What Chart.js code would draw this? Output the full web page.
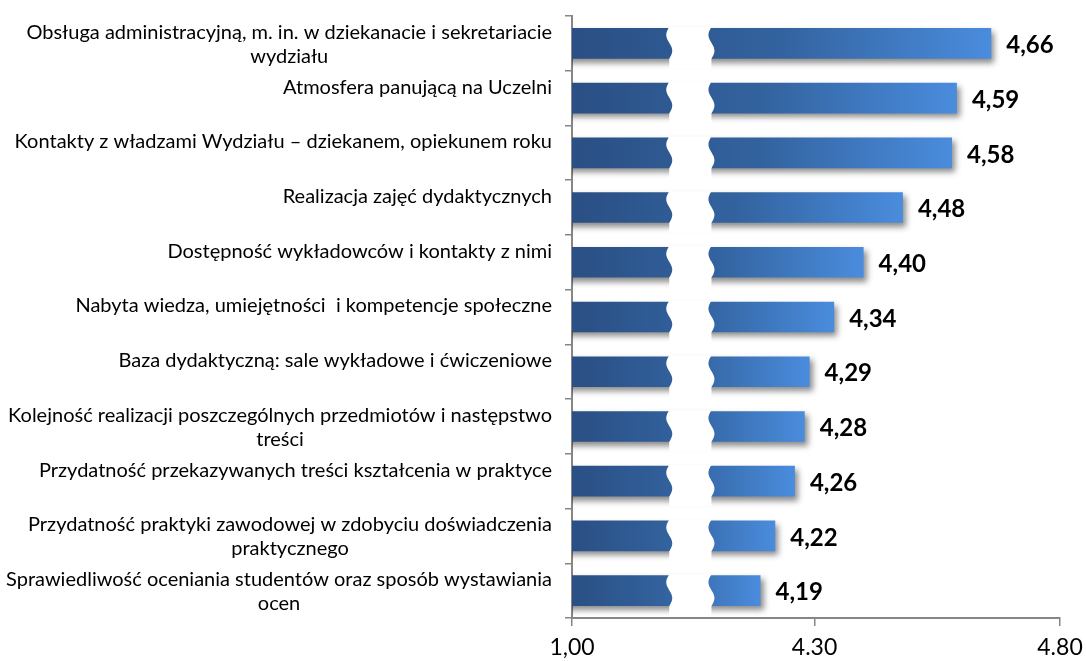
<!DOCTYPE html>
<html lang="pl">
<head>
  <meta charset="UTF-8">
  <title>Ocena</title>
  <script src="https://cdn.jsdelivr.net/npm/chart.js"></script>
  <style>
    html, body { margin: 0; padding: 0; background: #ffffff; }
    .chart-container { width: 1086px; height: 661px; }
  </style>
</head>
<body>
  <div class="chart-container">
    <canvas id="barChart"></canvas>
  </div>
  <script>
    // categories, wrapped as in the original
    const categories = [
      ['Obsługa administracyjną, m. in. w dziekanacie i sekretariacie', 'wydziału'],
      ['Atmosfera panującą na Uczelni'],
      ['Kontakty z władzami Wydziału – dziekanem, opiekunem roku'],
      ['Realizacja zajęć dydaktycznych'],
      ['Dostępność wykładowców i kontakty z nimi'],
      ['Nabyta wiedza, umiejętności  i kompetencje społeczne'],
      ['Baza dydaktyczną: sale wykładowe i ćwiczeniowe'],
      ['Kolejność realizacji poszczególnych przedmiotów i następstwo', 'treści'],
      ['Przydatność przekazywanych treści kształcenia w praktyce'],
      ['Przydatność praktyki zawodowej w zdobyciu doświadczenia', 'praktycznego'],
      ['Sprawiedliwość oceniania studentów oraz sposób wystawiania', 'ocen']
    ];
    const values = [4.66, 4.59, 4.58, 4.48, 4.40, 4.34, 4.29, 4.28, 4.26, 4.22, 4.19];
    const valueLabels = ['4,66', '4,59', '4,58', '4,48', '4,40', '4,34', '4,29', '4,28', '4,26', '4,22', '4,19'];
    // broken axis: left end is labelled 1,00
    const tickValues = [3.806, 4.30, 4.80];
    const tickLabels = ['1,00', '4.30', '4.80'];

    const FONT = 'Lato, "Open Sans", sans-serif';

    // shadow under the bars
    const shadowPlugin = {
      id: 'barShadow',
      beforeDatasetsDraw(chart) {
        const ctx = chart.ctx;
        ctx.save();
        ctx.shadowColor = 'rgba(0,0,0,0.45)';
        ctx.shadowBlur = 6;
        ctx.shadowOffsetX = 3;
        ctx.shadowOffsetY = 4;
      },
      afterDatasetsDraw(chart) {
        chart.ctx.restore();
      }
    };

    // axis break + value labels
    const breakPlugin = {
      id: 'axisBreak',
      afterDatasetsDraw(chart) {
        const ctx = chart.ctx;
        const x = chart.scales.x;
        const x1 = x.getPixelForValue(4.0);
        const x2 = x.getPixelForValue(4.088);
        const meta = chart.getDatasetMeta(0);
        ctx.save();
        ctx.fillStyle = '#ffffff';
        meta.data.forEach(function(bar) {
          const top = bar.y - bar.height / 2 - 1;
          const bottom = bar.y + bar.height / 2 + 10;
          const h = bar.height + 1;
          ctx.beginPath();
          for (let i = 0; i <= 20; i++) {
            const t = i / 20;
            const yy = top + t * h;
            const xx = x1 + 2 - 3 * Math.sin(2 * Math.PI * t);
            if (i === 0) ctx.moveTo(xx, yy); else ctx.lineTo(xx, yy);
          }
          ctx.lineTo(x1 + 2, bottom);
          ctx.lineTo(x2 + 1, bottom);
          for (let i = 20; i >= 0; i--) {
            const t = i / 20;
            const yy = top + t * h;
            const xx = x2 + 1 - 3 * Math.sin(2 * Math.PI * t);
            ctx.lineTo(xx, yy);
          }
          ctx.closePath();
          ctx.fill();
        });

        ctx.fillStyle = '#000000';
        ctx.font = 'bold 24px ' + FONT;
        ctx.textAlign = 'left';
        ctx.textBaseline = 'middle';
        meta.data.forEach(function(bar, i) {
          ctx.fillText(valueLabels[i], bar.x + 15, bar.y + 2);
        });
        ctx.restore();
      }
    };

    // category labels: block right-aligned to the axis, lines centred inside the block
    const labelPlugin = {
      id: 'catLabels',
      afterDraw(chart) {
        const ctx = chart.ctx;
        const y = chart.scales.y;
        const right = y.right - 20;
        ctx.save();
        ctx.fillStyle = '#000000';
        ctx.font = '20px ' + FONT;
        ctx.textAlign = 'center';
        ctx.textBaseline = 'middle';
        categories.forEach(function(lines, i) {
          const cy = y.getPixelForTick(i);
          let w = 0;
          lines.forEach(function(s) { w = Math.max(w, ctx.measureText(s).width); });
          const cx = right - w / 2;
          lines.forEach(function(s, j) {
            ctx.fillText(s, cx, cy - 11 + j * 24);
          });
        });
        ctx.restore();
      }
    };

    new Chart(document.getElementById('barChart').getContext('2d'), {
      type: 'bar',
      data: {
        labels: categories.map(function(l) { return l.join(' '); }),
        datasets: [{
          data: values,
          backgroundColor: function(c) {
            const chart = c.chart;
            const area = chart.chartArea;
            if (!area) return '#3a6eb5';
            const end = chart.scales.x.getPixelForValue(values[c.dataIndex]);
            const g = chart.ctx.createLinearGradient(area.left, 0, end, 0);
            g.addColorStop(0, '#2a4f84');
            g.addColorStop(0.5, '#33639f');
            g.addColorStop(1, '#4a8cdd');
            return g;
          },
          borderWidth: 0,
          categoryPercentage: 1,
          barPercentage: 0.56
        }]
      },
      options: {
        indexAxis: 'y',
        responsive: true,
        maintainAspectRatio: false,
        animation: false,
        layout: { padding: { top: 16, right: 26, left: 0, bottom: 0 } },
        plugins: {
          legend: { display: false },
          tooltip: { enabled: false }
        },
        scales: {
          x: {
            type: 'linear',
            min: tickValues[0],
            max: tickValues[2],
            afterBuildTicks: function(axis) {
              axis.ticks = tickValues.map(function(v) { return { value: v }; });
            },
            afterFit: function(axis) {
              axis.height = 43;
              axis.paddingLeft = 0;
              axis.paddingRight = 0;
            },
            grid: { drawOnChartArea: false, tickLength: 8, color: '#868686', lineWidth: 1.5 },
            border: { color: '#868686', width: 2 },
            ticks: {
              autoSkip: false,
              maxRotation: 0,
              padding: 8,
              color: '#000000',
              font: { family: FONT, size: 23 },
              callback: function(v, i) { return tickLabels[i]; }
            }
          },
          y: {
            afterFit: function(axis) {
              axis.width = 572;
              axis.paddingTop = 0;
              axis.paddingBottom = 0;
            },
            grid: { drawOnChartArea: false, tickLength: 7, color: '#868686', lineWidth: 1.5, offset: true },
            border: { color: '#868686', width: 2 },
            ticks: { display: false }
          }
        }
      },
      plugins: [shadowPlugin, breakPlugin, labelPlugin]
    });
  </script>
</body>
</html>
